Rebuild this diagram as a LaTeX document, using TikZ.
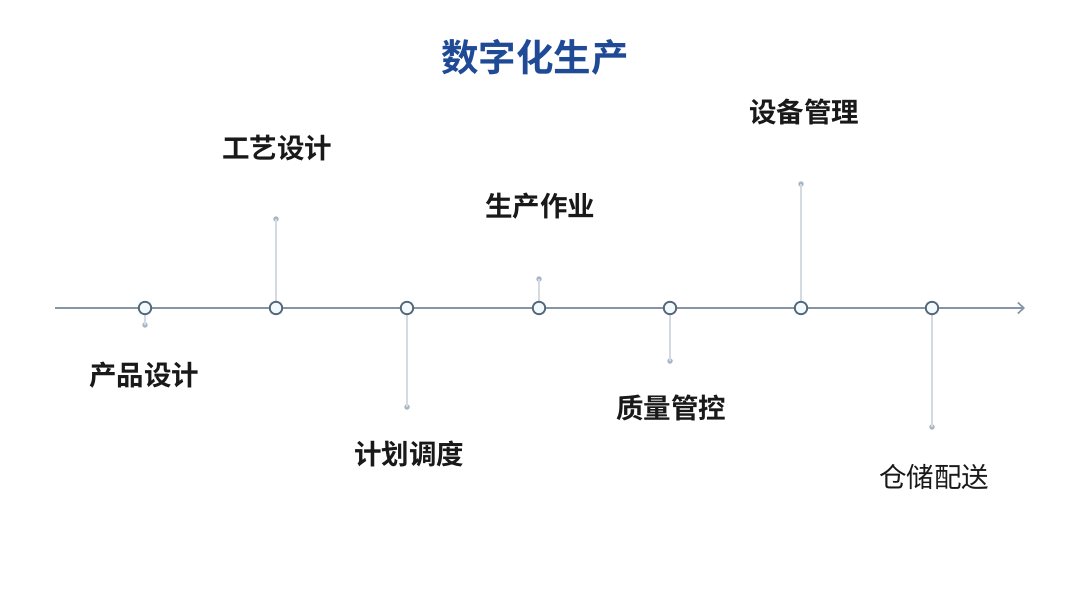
\documentclass[tikz,border=0pt]{standalone}
\usepackage{fontspec}
\newfontfamily\cjk{Noto Sans CJK SC}
\newfontfamily\cjkb{Noto Sans CJK SC Bold}
\usetikzlibrary{arrows.meta}
\definecolor{titleblue}{HTML}{1F4A96}
\definecolor{axisc}{HTML}{8595A6}
\definecolor{ringc}{HTML}{56687A}
\definecolor{stemc}{HTML}{D3DAE2}
\definecolor{dotc}{HTML}{A9B6C5}
\definecolor{ringfill}{HTML}{F2FAFD}
\tikzset{
  ring/.style={circle,draw=ringc,line width=1.8pt,fill=ringfill,minimum size=12.5pt,inner sep=0pt},
  stem/.style={draw=stemc,line width=1.3pt},
  tip/.style={circle,fill=dotc,minimum size=5.5pt,inner sep=0pt},
  lab/.style={font=\cjkb\fontsize{27.5}{30}\selectfont,text=black!90},
  labr/.style={font=\cjk\fontsize{27.5}{30}\selectfont,text=black!90},
}
\begin{document}
\begin{tikzpicture}[x=1pt,y=-1pt]
\useasboundingbox[fill=white] (0,0) rectangle (1080,608);
\node[font=\cjkb\fontsize{37.5}{42}\selectfont,text=titleblue] (title) at (535,57) {数字化生产};
\coordinate (a0) at (55,308);
\coordinate (a1) at (1025,308);
\draw[axisc,line width=1.6pt,-{Straight Barb[length=6pt,width=11pt]}] (a0) -- (a1);
% stems
\node[tip] (d1) at (145,325) {};
\node[tip] (d2) at (276,219) {};
\node[tip] (d3) at (407,407) {};
\node[tip] (d4) at (539,279) {};
\node[tip] (d5) at (670,361) {};
\node[tip] (d6) at (801,184) {};
\node[tip] (d7) at (932,427) {};
\coordinate (c1) at (145,308);
\coordinate (c2) at (276,308);
\coordinate (c3) at (407,308);
\coordinate (c4) at (539,308);
\coordinate (c5) at (670,308);
\coordinate (c6) at (801,308);
\coordinate (c7) at (932,308);
\foreach \i in {1,...,7} {\draw[stem] (c\i) -- (d\i.center);}
\foreach \i in {1,...,7} {\node[ring] (r\i) at (c\i) {};}
\node[lab] (l1) at (144,375) {产品设计};
\node[lab] (l2) at (277,148) {工艺设计};
\node[lab] (l3) at (409,454) {计划调度};
\node[lab] (l4) at (540,206) {生产作业};
\node[lab] (l5) at (671,408) {质量管控};
\node[lab] (l6) at (804,112) {设备管理};
\node[labr] (l7) at (934,477) {仓储配送};
\end{tikzpicture}
\end{document}
